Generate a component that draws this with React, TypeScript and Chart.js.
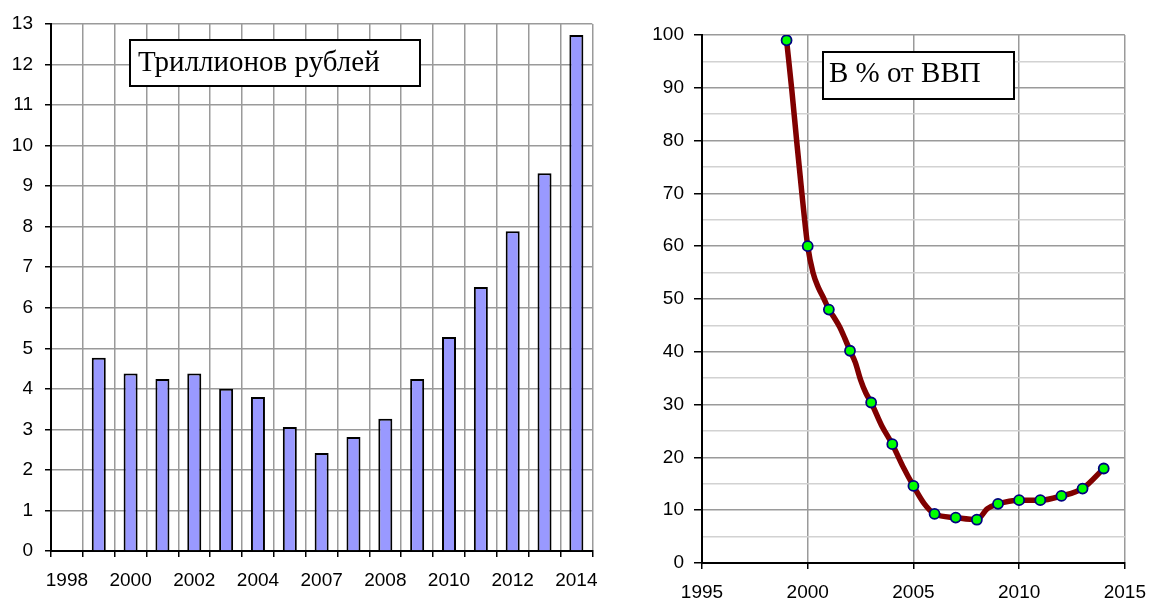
import React, { useEffect, useRef } from 'react';
import { Chart, registerables } from 'chart.js';

Chart.register(...registerables);

// ---- Left chart: trillions of rubles (bars) ----
const categories = ['1998', '1999', '2000', '2001', '2002', '2003', '2004', '2005', '2006', '2007', '2008', '2009', '2010', '2011', '2012', '2013', '2014'];
const xTickLabels = ['1998', '2000', '2002', '2004', '2007', '2008', '2010', '2012', '2014'];
const trillionRub = [null, 4.77, 4.38, 4.24, 4.38, 4.0, 3.8, 3.06, 2.42, 2.81, 3.26, 4.24, 5.28, 6.51, 7.89, 9.32, 12.73];
const leftYTicks = [0, 13];
const leftTitle = 'Триллионов рублей';

// ---- Right chart: % of GDP (smoothed line with annual markers) ----
const markerYears = [1999, 2000, 2001, 2002, 2003, 2004, 2005, 2006, 2007, 2008, 2009, 2010, 2011, 2012, 2013, 2014];
const markerValues = [99, 60, 48, 40.2, 30.4, 22.5, 14.6, 9.3, 8.6, 8.2, 11.2, 11.9, 11.9, 12.7, 14.1, 17.9];
const lineYears = [1999, 1999.25, 1999.5, 1999.75, 2000, 2000.25, 2000.5, 2000.75, 2001, 2001.25, 2001.5, 2001.75, 2002, 2002.25, 2002.5, 2002.75, 2003, 2003.5, 2004, 2004.5, 2005, 2005.5, 2006, 2007, 2008, 2008.5, 2009, 2010, 2011, 2012, 2013, 2014];
const lineValues = [99, 89.5, 79, 69, 60, 55, 52.2, 50.2, 48, 46.5, 44.8, 42.6, 40.2, 38, 34.7, 32.2, 30.4, 26, 22.5, 18.3, 14.6, 11.3, 9.3, 8.6, 8.2, 10.3, 11.2, 11.9, 11.9, 12.7, 14.1, 17.9];
const rightXTicks = [1995, 2015];
const rightYTicks = [0, 100];
const rightTitle = 'В % от ВВП';

const SANS = '"Liberation Sans", Arial, Helvetica, sans-serif';
const SERIF = '"Liberation Serif", "Times New Roman", Times, serif';
const MAJOR = '#9a9a9a';
const MINOR = '#d2d2d2';

const boxPlugin = {
  id: 'labelBox',
  afterDraw(chart: any, _args: any, opts: any) {
    if (!opts || !opts.text) return;
    const { ctx, chartArea } = chart;
    const x = chartArea.left + opts.dx;
    const y = chartArea.top + opts.dy;
    ctx.save();
    ctx.fillStyle = '#ffffff';
    ctx.fillRect(x, y, opts.w, opts.h);
    ctx.strokeStyle = '#000000';
    ctx.lineWidth = 2;
    ctx.strokeRect(x, y, opts.w, opts.h);
    ctx.fillStyle = '#000000';
    ctx.font = `29px ${SERIF}`;
    ctx.textBaseline = 'alphabetic';
    ctx.textAlign = 'left';
    ctx.fillText(opts.text, x + opts.padX, y + opts.baseline);
    ctx.restore();
  },
};

function LeftChart() {
  const ref = useRef<HTMLCanvasElement | null>(null);
  useEffect(() => {
    if (!ref.current) return;
    const chart = new Chart(ref.current, {
      type: 'bar',
      data: {
        labels: categories,
        datasets: [
          {
            data: trillionRub as any,
            backgroundColor: '#9999ff',
            borderColor: '#000000',
            borderWidth: 2,
            barPercentage: 0.44,
            categoryPercentage: 1,
          },
        ],
      },
      options: {
        responsive: false,
        animation: false,
        events: [],
        layout: { padding: { top: 24, right: 17, left: 0, bottom: 0 } },
        plugins: {
          legend: { display: false },
          tooltip: { enabled: false },
          labelBox: { text: leftTitle, dx: 79, dy: 16, w: 290, h: 46, padX: 8, baseline: 31 },
        } as any,
        scales: {
          x: {
            type: 'category',
            offset: true,
            grid: { offset: true, color: MAJOR, lineWidth: 1.5, tickColor: '#000', tickLength: 6 },
            border: { color: '#000', width: 2 },
            ticks: {
              autoSkip: false,
              maxRotation: 0,
              padding: 12,
              color: '#000',
              font: { family: SANS, size: 19 },
              callback: (_v: any, i: number) => (i % 2 === 0 ? xTickLabels[i / 2] : ''),
            },
            afterFit: (s: any) => { s.height = 52; },
          },
          y: {
            min: leftYTicks[0],
            max: leftYTicks[1],
            grid: {
              color: (c: any) => (c.tick && c.tick.value % 1 === 0 ? MAJOR : MINOR),
              lineWidth: 1.5,
              tickColor: (c: any) => (c.tick && c.tick.value % 1 === 0 ? '#000' : 'rgba(0,0,0,0)'),
              tickLength: 6,
            },
            border: { color: '#000', width: 2 },
            ticks: {
              stepSize: 0.5,
              padding: 12,
              color: '#000',
              font: { family: SANS, size: 19 },
              callback: (v: any) => (Number(v) % 1 === 0 ? String(v) : ''),
            },
            afterFit: (s: any) => { s.width = 51; },
          },
        },
      },
      plugins: [boxPlugin as any],
    });
    return () => chart.destroy();
  }, []);
  return <canvas ref={ref} width={610} height={603} style={{ position: 'absolute', left: 0, top: 0, width: 610, height: 603 }} />;
}

function RightChart() {
  const ref = useRef<HTMLCanvasElement | null>(null);
  useEffect(() => {
    if (!ref.current) return;
    const chart = new Chart(ref.current, {
      type: 'scatter',
      data: {
        datasets: [
          {
            data: markerYears.map((x, i) => ({ x, y: markerValues[i] })),
            showLine: false,
            pointRadius: 5,
            pointBackgroundColor: '#00ff00',
            pointBorderColor: '#000080',
            pointBorderWidth: 1.8,
            order: 0,
          },
          {
            data: lineYears.map((x, i) => ({ x, y: lineValues[i] })),
            showLine: true,
            pointRadius: 0,
            borderColor: '#800000',
            borderWidth: 5.5,
            borderCapStyle: 'round',
            borderJoinStyle: 'round',
            cubicInterpolationMode: 'monotone',
            order: 1,
          } as any,
        ],
      },
      options: {
        responsive: false,
        animation: false,
        events: [],
        layout: { padding: { top: 35, right: 25, left: 0, bottom: 0 } },
        plugins: {
          legend: { display: false },
          tooltip: { enabled: false },
          labelBox: { text: rightTitle, dx: 121, dy: 17, w: 191, h: 47, padX: 6, baseline: 30 },
        } as any,
        scales: {
          x: {
            type: 'linear',
            min: rightXTicks[0],
            max: rightXTicks[1],
            grid: { color: MAJOR, lineWidth: 1.5, tickColor: '#000', tickLength: 6 },
            border: { color: '#000', width: 2 },
            ticks: {
              stepSize: 5,
              padding: 12,
              color: '#000',
              font: { family: SANS, size: 19 },
              callback: (v: any) => String(v),
            },
            afterFit: (s: any) => { s.height = 40; },
          },
          y: {
            min: rightYTicks[0],
            max: rightYTicks[1],
            grid: {
              color: (c: any) => (c.tick && c.tick.value % 10 === 0 ? MAJOR : MINOR),
              lineWidth: 1.5,
              tickColor: (c: any) => (c.tick && c.tick.value % 10 === 0 ? '#000' : 'rgba(0,0,0,0)'),
              tickLength: 8,
            },
            border: { color: '#000', width: 2 },
            ticks: {
              stepSize: 5,
              padding: 10,
              color: '#000',
              font: { family: SANS, size: 19 },
              callback: (v: any) => (Number(v) % 10 === 0 ? String(v) : ''),
            },
            afterFit: (s: any) => { s.width = 92; },
          },
        },
      },
      plugins: [boxPlugin as any],
    });
    return () => chart.destroy();
  }, []);
  return <canvas ref={ref} width={548} height={603} style={{ position: 'absolute', left: 610, top: 0, width: 548, height: 603 }} />;
}

export default function App() {
  return (
    <div style={{ position: 'absolute', left: 0, top: 0, width: 1158, height: 603, background: '#ffffff', overflow: 'hidden' }}>
      <LeftChart />
      <RightChart />
    </div>
  );
}
